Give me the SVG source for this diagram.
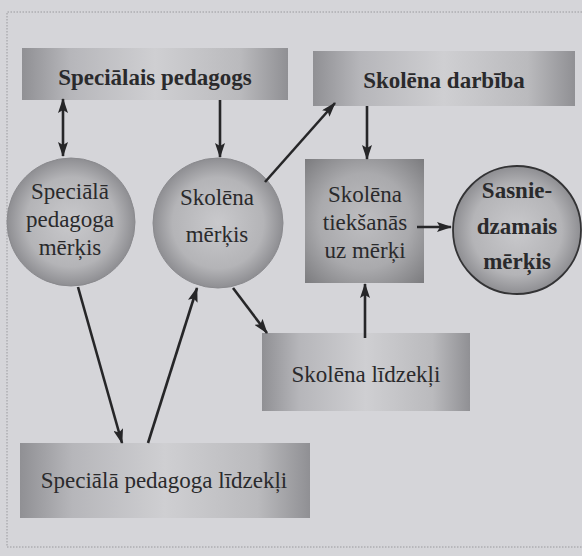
<svg xmlns="http://www.w3.org/2000/svg" width="582" height="556" viewBox="0 0 582 556">
<style>
.t{font-family:"Liberation Serif","DejaVu Serif",serif;font-size:23px;fill:#2a2a2c;text-anchor:middle}
.b{font-weight:bold}
.c{stroke:#262628;stroke-width:2.6;fill:none}
.frame{stroke:#9a9a9e;stroke-width:1;stroke-dasharray:1.5 1.5;fill:none}
</style>
<defs>
<linearGradient id="gbox" x1="0" y1="0" x2="1" y2="0">
<stop offset="0" stop-color="#909094"/>
<stop offset="0.18" stop-color="#b6b6ba"/>
<stop offset="0.5" stop-color="#cfcfd2"/>
<stop offset="0.82" stop-color="#bababd"/>
<stop offset="1" stop-color="#909094"/>
</linearGradient>
<radialGradient id="gsq" cx="0.5" cy="0.5" r="0.7">
<stop offset="0" stop-color="#bebec1"/>
<stop offset="0.55" stop-color="#aaaaad"/>
<stop offset="1" stop-color="#7c7c7f"/>
</radialGradient>
<radialGradient id="gcir" cx="0.5" cy="0.5" r="0.5">
<stop offset="0" stop-color="#c9c9cc"/>
<stop offset="0.7" stop-color="#b4b4b7"/>
<stop offset="1" stop-color="#8e8e92"/>
</radialGradient>
<marker id="ah" viewBox="0 0 15 10" refX="14" refY="5" markerWidth="15" markerHeight="10" markerUnits="userSpaceOnUse" orient="auto-start-reverse">
<path d="M0,0 L15,5 L0,10 L3,5 Z" fill="#262628"/>
</marker>
</defs>
<rect width="582" height="556" fill="#d5d5d9"/>
<path class="frame" d="M582,12 H7 V547 H582"/>

<g id="specialais-pedagogs">
<rect x="22" y="48" width="266" height="52" fill="url(#gbox)"/>
<text class="t b" x="155" y="85">Speciālais pedagogs</text>
</g>
<g id="skolena-darbiba">
<rect x="313" y="51" width="262" height="55" fill="url(#gbox)"/>
<text class="t b" x="444" y="88">Skolēna darbība</text>
</g>
<g id="speciala-pedagoga-merkis">
<circle cx="71" cy="222" r="64" fill="url(#gcir)" stroke="#8a8a8e" stroke-width="1"/>
<text class="t" x="70" y="199">Speciālā</text>
<text class="t" x="70" y="227">pedagoga</text>
<text class="t" x="70" y="255">mērķis</text>
</g>
<g id="skolena-merkis">
<circle cx="218" cy="223" r="65" fill="url(#gcir)" stroke="#8a8a8e" stroke-width="1"/>
<text class="t" x="217" y="205">Skolēna</text>
<text class="t" x="217" y="242">mērķis</text>
</g>
<g id="skolena-tieksanas">
<rect x="305" y="159" width="119" height="124" fill="url(#gsq)"/>
<text class="t" x="365" y="202">Skolēna</text>
<text class="t" x="365" y="230">tiekšanās</text>
<text class="t" x="365" y="258">uz mērķi</text>
</g>
<g id="sasniedzamais-merkis">
<circle cx="517" cy="230" r="64" fill="url(#gcir)" stroke="#333335" stroke-width="1.8"/>
<text class="t b" x="517" y="198">Sasnie-</text>
<text class="t b" x="517" y="234">dzamais</text>
<text class="t b" x="517" y="269">mērķis</text>
</g>
<g id="skolena-lidzekli">
<rect x="262" y="333" width="208" height="78" fill="url(#gbox)"/>
<text class="t" x="366" y="382">Skolēna līdzekļi</text>
</g>
<g id="speciala-pedagoga-lidzekli">
<rect x="20" y="443" width="290" height="75" fill="url(#gbox)"/>
<text class="t" x="164" y="488">Speciālā pedagoga līdzekļi</text>
</g>

<g id="connectors">
<line class="c" x1="63" y1="99" x2="63" y2="156" marker-start="url(#ah)" marker-end="url(#ah)"/>
<line class="c" x1="220" y1="100" x2="220" y2="157" marker-end="url(#ah)"/>
<line class="c" x1="265" y1="182" x2="335" y2="103" marker-end="url(#ah)"/>
<line class="c" x1="367" y1="106" x2="367" y2="159" marker-end="url(#ah)"/>
<line class="c" x1="417" y1="227" x2="451" y2="227" marker-end="url(#ah)"/>
<line class="c" x1="78" y1="287" x2="122" y2="443" marker-end="url(#ah)"/>
<line class="c" x1="148" y1="443" x2="197" y2="288" marker-end="url(#ah)"/>
<line class="c" x1="233" y1="288" x2="267" y2="333" marker-end="url(#ah)"/>
<line class="c" x1="365" y1="338" x2="365" y2="284" marker-end="url(#ah)"/>
</g>
</svg>
